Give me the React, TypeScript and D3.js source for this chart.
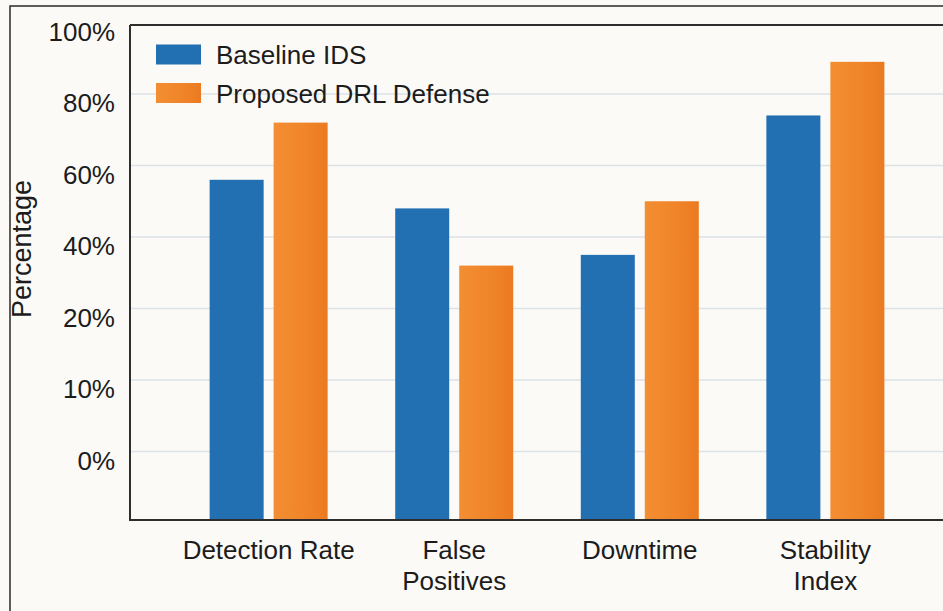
import React from "react";
import * as d3 from "d3";

// Metrics compared between the two systems
const categories = ["Detection Rate", "False Positives", "Downtime", "Stability Index"];
const categoryLines = [["Detection Rate"], ["False", "Positives"], ["Downtime"], ["Stability", "Index"]];
const seriesNames = ["Baseline IDS", "Proposed DRL Defense"];
const baselineValues = [56, 48, 35, 74];
const proposedValues = [72, 32, 50, 89];

// Axis ticks are evenly spaced, even though the values are not
const tickValues = [0, 10, 20, 40, 60, 80, 100];
const tickLabels = ["0%", "10%", "20%", "40%", "60%", "80%", "100%"];

const W = 943;
const H = 611;
const FONT = "'Liberation Sans', Arial, Helvetica, sans-serif";
const BLUE = "#2270b2";
const TEXT = "#1c1c1c";

export default function App() {
  const plotLeft = 130;
  const plotTop = 25;
  const plotBottom = 520;
  const plotW = 834;
  const zeroY = 451.5;
  const tickStep = 71.5;

  const y = d3
    .scaleLinear()
    .domain(tickValues)
    .range(tickValues.map((_, i) => zeroY - i * tickStep));

  const x = d3.scalePoint<string>().domain(categories).range([0, plotW]).padding(0.747);
  const xSub = d3.scaleBand<string>().domain(seriesNames).range([-59, 59]).paddingInner(0.156);

  const series = [
    { name: seriesNames[0], values: baselineValues, fill: BLUE },
    { name: seriesNames[1], values: proposedValues, fill: "url(#orangeGrad)" },
  ];

  return (
    <svg
      width={W}
      height={H}
      viewBox={`0 0 ${W} ${H}`}
      style={{ position: "fixed", left: 0, top: 0, background: "#fbfaf7" }}
      fontFamily={FONT}
    >
      <defs>
        <linearGradient id="orangeGrad" x1="0" x2="1" y1="0" y2="0">
          <stop offset="0%" stopColor="#f38e33" />
          <stop offset="60%" stopColor="#f08428" />
          <stop offset="100%" stopColor="#eb7a20" />
        </linearGradient>
      </defs>
      <rect x={0} y={0} width={W} height={H} fill="#fbfaf7" />
      {/* outer frame */}
      <rect x={10} y={6} width={W + 20} height={H + 20} fill="none" stroke="#2a2a2a" strokeWidth={1.5} />

      {/* gridlines */}
      {tickValues.slice(0, -1).map((t) => (
        <line
          key={`g${t}`}
          x1={plotLeft}
          x2={plotLeft + plotW}
          y1={y(t)}
          y2={y(t)}
          stroke="#dde2e6"
          strokeWidth={1.5}
        />
      ))}

      {/* tick labels */}
      {tickValues.map((t, i) => (
        <text
          key={`t${t}`}
          x={115}
          y={y(t) + 18}
          textAnchor="end"
          fontSize={26}
          fill={TEXT}
        >
          {tickLabels[i]}
        </text>
      ))}

      {/* bars */}
      <g transform={`translate(${plotLeft},0)`}>
        {categories.map((c, ci) =>
          series.map((s) => (
            <rect
              key={`${c}-${s.name}`}
              x={(x(c) as number) + (xSub(s.name) as number)}
              y={y(s.values[ci])}
              width={xSub.bandwidth()}
              height={plotBottom - y(s.values[ci])}
              fill={s.fill}
            />
          ))
        )}
        {/* category labels */}
        {categories.map((c, ci) => (
          <text key={`c${c}`} x={x(c) as number} textAnchor="middle" fontSize={26} fill={TEXT}>
            {categoryLines[ci].map((line, li) => (
              <tspan key={li} x={x(c) as number} y={559 + li * 31}>
                {line}
              </tspan>
            ))}
          </text>
        ))}
      </g>

      {/* plot frame */}
      <line x1={plotLeft} x2={W + 10} y1={plotTop} y2={plotTop} stroke="#2e2e2e" strokeWidth={2} />
      <line x1={plotLeft} x2={plotLeft} y1={plotTop} y2={plotBottom} stroke="#2e2e2e" strokeWidth={2} />
      <line x1={plotLeft - 1} x2={W + 10} y1={plotBottom} y2={plotBottom} stroke="#2e2e2e" strokeWidth={2} />

      {/* y-axis title */}
      <text
        transform={`translate(31,249) rotate(-90)`}
        textAnchor="middle"
        fontSize={27}
        fill={TEXT}
      >
        Percentage
      </text>

      {/* legend */}
      {series.map((s, i) => (
        <g key={`l${s.name}`} transform={`translate(156,${44.5 + i * 38.5})`}>
          <rect x={0} y={0} width={45} height={20} fill={s.fill} />
          <text x={60} y={19.5} fontSize={26} fill={TEXT}>
            {s.name}
          </text>
        </g>
      ))}
    </svg>
  );
}
